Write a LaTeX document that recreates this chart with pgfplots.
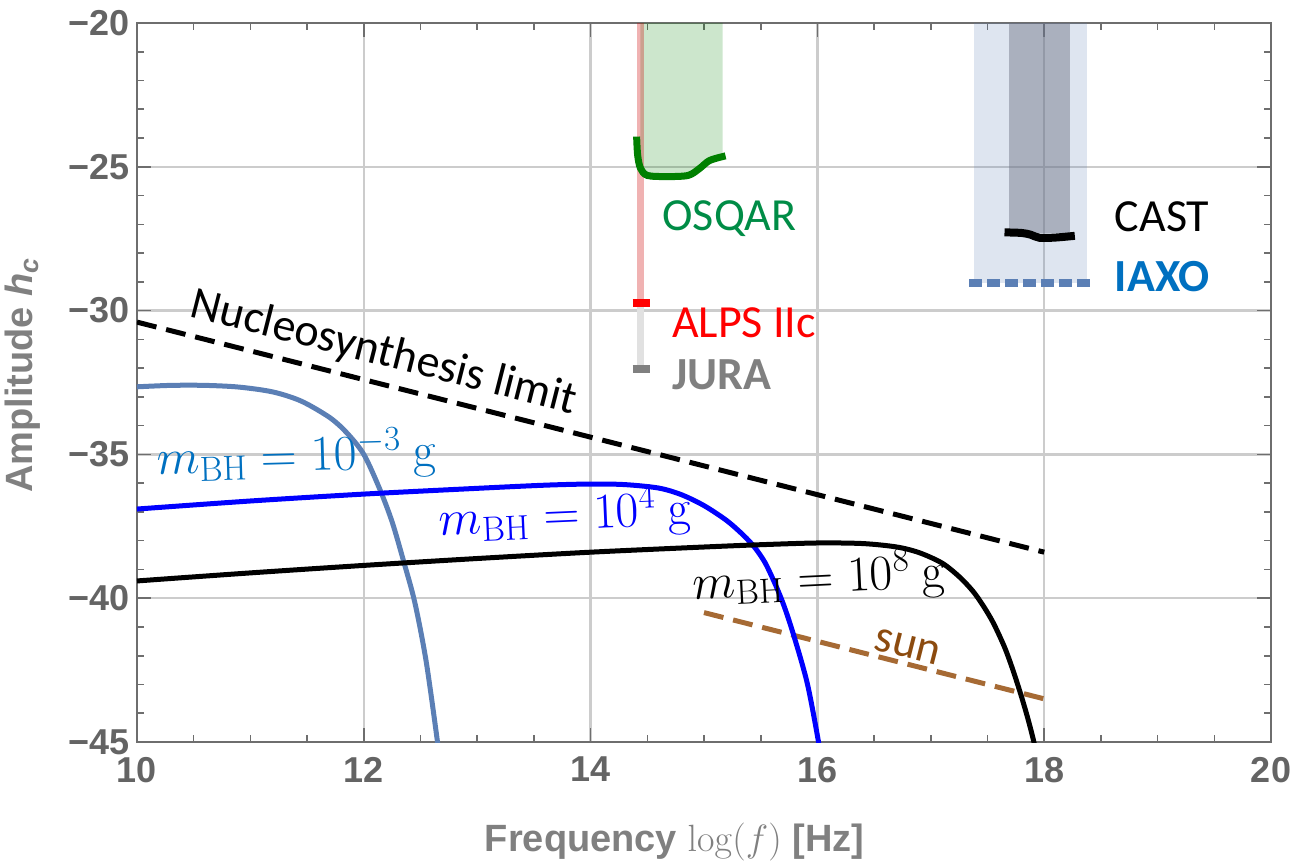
\documentclass[border=0pt]{standalone}
\usepackage{fix-cm}
\usepackage{pgfplots}
\pgfplotsset{compat=1.18}
\usepackage[no-math]{fontspec}
\setmainfont{Carlito}
\newfontfamily\arialf{Liberation Sans}

\definecolor{tickgrey}{RGB}{100,100,100}
\definecolor{labgrey}{RGB}{128,128,128}
\definecolor{framegrey}{RGB}{110,110,110}
\definecolor{gridgrey}{RGB}{204,204,204}
\definecolor{steel}{RGB}{91,127,181}
\definecolor{labblue}{RGB}{0,112,192}
\definecolor{osqgreen}{RGB}{0,128,0}
\definecolor{osqtext}{RGB}{0,140,70}
\definecolor{sunbrown}{RGB}{166,106,52}
\definecolor{suntext}{RGB}{140,75,15}
\definecolor{castgrey}{RGB}{106,111,129}
\definecolor{juraline}{RGB}{225,225,225}

\newcommand\tickfont{\arialf\bfseries\fontsize{18}{18}\selectfont}
\newcommand\axfont{\arialf\bfseries\fontsize{19}{19}\selectfont}
\newcommand\lbl{\fontsize{23}{23}\selectfont}
\newcommand\mlbl{\fontsize{25}{25}\selectfont}

\begin{document}
\begin{tikzpicture}
\begin{axis}[
  scale only axis, width=567pt, height=359.5pt,
  xmin=10, xmax=20, ymin=-45, ymax=-20,
  xtick={10,12,...,20}, xticklabels={10,12,14,16,18,20},
  ytick={-45,-40,...,-20}, yticklabels={−45,−40,−35,−30,−25,−20},
  minor x tick num=3, minor y tick num=4,
  tick align=inside, major tick length=7pt, minor tick length=3.5pt,
  grid=major, major grid style={gridgrey, line width=1.2pt},
  axis line style={framegrey, line width=1pt},
  tick style={framegrey, line width=0.8pt},
  tick label style={font=\tickfont, text=tickgrey},
  xticklabel style={yshift=-4pt},
  xlabel={Frequency $\log(f)$ [Hz]},
  xlabel style={font=\axfont, text=labgrey, at={(axis description cs:0.474,-0.1516)}, anchor=base},
  ylabel={Amplitude {\itshape h}\textsubscript{\itshape c}},
  ylabel style={font=\axfont, text=labgrey, at={(axis description cs:-0.1009,0.51)}, anchor=center},
]
% OSQAR region
\addplot[draw=none, fill=osqgreen, fill opacity=0.2] coordinates {(14.44,-20) (14.44,-25.0) (14.49,-25.32) (14.67,-25.34) (14.88,-25.28) (14.96,-25.05) (15.05,-24.76) (15.165,-24.63) (15.165,-20)} -- cycle;
% CAST / IAXO bands
\addplot[draw=none, fill=steel, fill opacity=0.2] coordinates {(17.38,-20) (17.38,-29.04) (18.38,-29.04) (18.38,-20)} -- cycle;
\addplot[draw=none, fill=castgrey, fill opacity=0.45] coordinates {(17.69,-20) (17.69,-27.3) (18.23,-27.3) (18.23,-20)} -- cycle;
% ALPS / JURA vertical lines
\addplot[red!80!black, opacity=0.3, line width=3.3pt] coordinates {(14.44,-20) (14.44,-29.75)};
\addplot[juraline, line width=3.3pt] coordinates {(14.44,-29.85) (14.44,-32.0)};
\addplot[red, line width=4pt] coordinates {(14.37,-29.74) (14.52,-29.74)};
\addplot[labgrey, line width=4pt] coordinates {(14.37,-32.03) (14.52,-32.03)};
% OSQAR curve
\addplot[osqgreen, line width=3.5pt, smooth] coordinates {(14.406,-23.95) (14.415,-24.6) (14.44,-25.05) (14.5,-25.3) (14.67,-25.34) (14.86,-25.3) (14.96,-25.06) (15.05,-24.78) (15.19,-24.62)};
% CAST curve
\addplot[black, line width=4pt, smooth] coordinates {(17.65,-27.28) (17.8,-27.3) (17.88,-27.36) (17.96,-27.47) (18.1,-27.46) (18.27,-27.4)};
% IAXO
\addplot[steel, line width=4pt, dash pattern=on 6.3pt off 2.7pt] coordinates {(17.34,-29.05) (18.40,-29.05)};
% nucleosynthesis limit and sun
\addplot[black, line width=2.5pt, dash pattern=on 10pt off 5pt] coordinates {(10,-30.4) (18,-38.4)};
\addplot[sunbrown, line width=2.5pt, dash pattern=on 10pt off 5pt] coordinates {(15,-40.5) (18,-43.5)};
% black hole spectra
\addplot[steel, line width=2.5pt, smooth] coordinates {(10,-32.65) (10.3,-32.6) (10.6,-32.6) (10.9,-32.66) (11.2,-32.83) (11.45,-33.15) (11.7,-33.72) (11.85,-34.25) (12.0,-35.0) (12.14,-36.2) (12.25,-37.35) (12.35,-38.7) (12.45,-40.15) (12.55,-42.2) (12.65,-45) (12.68,-46)};
\addplot[blue, line width=2.5pt, smooth] coordinates {(10,-36.9) (11,-36.62) (12,-36.38) (13,-36.18) (13.6,-36.07) (14.0,-36.03) (14.3,-36.05) (14.6,-36.17) (14.8,-36.4) (15.0,-36.78) (15.2,-37.3) (15.35,-37.82) (15.45,-38.25) (15.55,-38.85) (15.68,-40.0) (15.78,-41.15) (15.91,-42.95) (16.01,-45) (16.04,-45.8)};
\addplot[black, line width=2.5pt, smooth] coordinates {(10,-39.4) (11,-39.12) (12,-38.86) (13,-38.62) (14,-38.4) (15,-38.22) (15.5,-38.14) (16,-38.08) (16.4,-38.1) (16.7,-38.22) (16.9,-38.42) (17.1,-38.78) (17.25,-39.25) (17.37,-39.75) (17.46,-40.25) (17.55,-40.85) (17.65,-41.7) (17.72,-42.45) (17.79,-43.3) (17.85,-44.1) (17.9,-44.85) (17.95,-45.7)};
% labels
\node[anchor=base west, inner sep=0pt, text=osqtext, font=\lbl] at (axis cs:14.63,-27.23) {OSQAR};
\node[anchor=base west, inner sep=0pt, text=red, font=\lbl] at (axis cs:14.715,-30.92) {ALPS IIc};
\node[anchor=base west, inner sep=0pt, text=labgrey, font=\lbl\bfseries] at (axis cs:14.715,-32.76) {JURA};
\node[anchor=base west, inner sep=0pt, text=black, font=\lbl] at (axis cs:18.62,-27.26) {CAST};
\node[anchor=base west, inner sep=0pt, text=labblue, font=\lbl\bfseries] at (axis cs:18.62,-29.34) {IAXO};
\node[anchor=base, inner sep=0pt, rotate=-14.23, font=\lbl] at (axis cs:12.15,-31.9) {Nucleosynthesis limit};
\node[anchor=base, inner sep=0pt, rotate=-14.23, text=suntext, font=\lbl] at (axis cs:16.77,-42.05) {sun};
\node[anchor=base, inner sep=0pt, rotate=1.6, text=labblue, font=\mlbl] at (axis cs:11.41,-35.58) {$m_{\mathrm{BH}} = 10^{-3}\ \mathrm{g}$};
\node[anchor=base, inner sep=0pt, rotate=2.5, text=blue, font=\mlbl] at (axis cs:13.78,-37.63) {$m_{\mathrm{BH}} = 10^{4}\ \mathrm{g}$};
\node[anchor=base, inner sep=0pt, rotate=2.8, text=black, font=\mlbl] at (axis cs:16.02,-39.82) {$m_{\mathrm{BH}} = 10^{8}\ \mathrm{g}$};
\end{axis}
\pgfresetboundingbox
\useasboundingbox (-68.5pt,-60.5pt) rectangle (579.5pt,371pt);
\end{tikzpicture}
\end{document}
